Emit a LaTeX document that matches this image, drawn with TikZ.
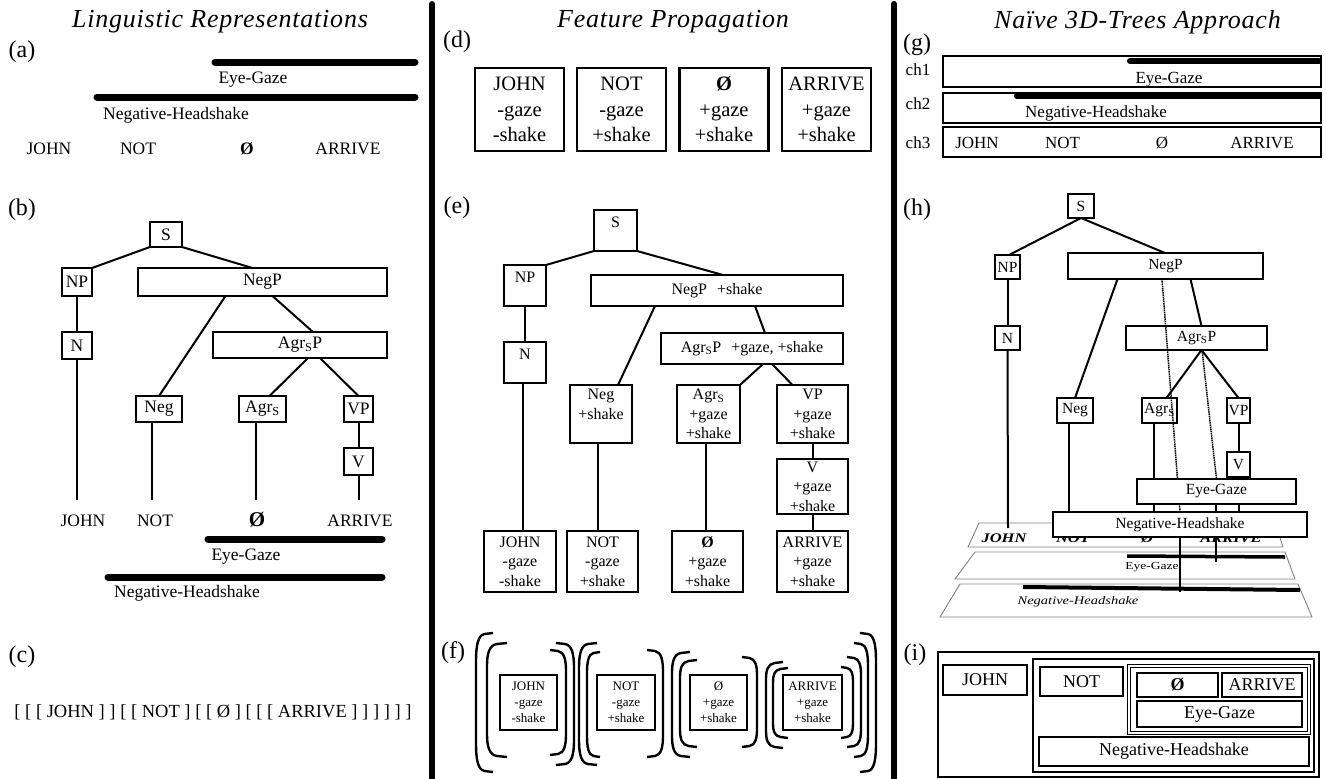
\documentclass[tikz,border=0pt]{standalone}
\usepackage{fontspec}
\setmainfont{Liberation Serif}
\newfontfamily\ttlfont[LetterSpace=3]{Liberation Serif}
\newcommand{\myfs}[2]{\fontsize{#1}{#2}\selectfont}
\newcommand{\brL}[4]{\draw[brk] (#1+#4,#2) -- (#1+0.5*#4,#2+1) .. controls (#1+0.1*#4,#2+2) and (#1,#2+0.1*#3-0.1*#2) .. (#1,#2+0.2*#3-0.2*#2) -- (#1,#3-0.2*#3+0.2*#2) .. controls (#1,#3-0.1*#3+0.1*#2) and (#1+0.1*#4,#3-2) .. (#1+0.5*#4,#3-1) -- (#1+#4,#3);}
\newcommand{\brR}[4]{\draw[brk] (#1-#4,#2) -- (#1-0.5*#4,#2+1) .. controls (#1-0.1*#4,#2+2) and (#1,#2+0.1*#3-0.1*#2) .. (#1,#2+0.2*#3-0.2*#2) -- (#1,#3-0.2*#3+0.2*#2) .. controls (#1,#3-0.1*#3+0.1*#2) and (#1-0.1*#4,#3-2) .. (#1-0.5*#4,#3-1) -- (#1-#4,#3);}
\begin{document}
\begin{tikzpicture}[x=1pt,y=-1pt,
  every node/.style={inner sep=0pt,outer sep=0pt},
  bx/.style={draw,line width=2.2pt,fill=white,align=center},
  sz/.style 2 args={minimum width=#1pt,minimum height=#2pt},
  tl/.style={line width=2pt},
  bar/.style={line width=7pt,line cap=round},
  divider/.style={line width=6pt,line cap=round},
  ttl/.style={font=\ttlfont\itshape\myfs{26}{30}},
  lab/.style={font=\myfs{24}{26}},
  fa/.style={font=\myfs{17.5}{20}},
  fc/.style={font=\myfs{18.5}{20}},
  fd/.style={font=\myfs{20.5}{25.5}},
  fe/.style={font=\myfs{16}{19.5}},
  ff/.style={font=\myfs{13}{16}},
  fg/.style={font=\myfs{17}{20}},
  fh/.style={font=\myfs{15.5}{18}},
  fi/.style={font=\myfs{18}{20}},
  pw/.style={font=\bfseries\itshape\myfs{16.5}{18}},
  brk/.style={line width=2.4pt},
  plane/.style={draw=gray,line width=0.9pt},
  dots/.style={line width=1.5pt,dash pattern=on 1.5pt off 0.7pt},
]
\useasboundingbox (0,0) rectangle (1326,779);

% dividers
\draw[divider] (432,4) -- (432,779);
\draw[divider] (894,4) -- (894,779);

%% ---------------- (a)
\node[ttl] (ta) at (220,22) {Linguistic Representations};
\node[lab] (la) at (22,52) {(a)};
\coordinate (aE1) at (215,62); \coordinate (aE2) at (415,62);
\draw[bar] (aE1) -- (aE2);
\node[fa] (aEt) at (253,80) {Eye-Gaze};
\coordinate (aN1) at (97,97); \coordinate (aN2) at (415,97);
\draw[bar] (aN1) -- (aN2);
\node[fa] (aNt) at (176,115) {Negative-Headshake};
\node[fa] (aw1) at (49,149) {JOHN};
\node[fa] (aw2) at (138,149) {NOT};
\node[fa] (aw3) at (247,149) {\bfseries Ø};
\node[fa] (aw4) at (348,149) {ARRIVE};

%% ---------------- (b)
\node[lab] (lb) at (22,210) {(b)};
\node[bx,fa,sz={32}{25}] (bS) at (166,234.5) {S};
\node[bx,fa,sz={30}{28}] (bNP) at (77,282) {NP};
\node[bx,fa,sz={249}{28}] (bNegP) at (262.5,282) {NegP};
\node[bx,fa,sz={30}{27}] (bN) at (77,345.5) {N};
\node[bx,fa,sz={174}{26}] (bAgrSP) at (300,345) {Agr\textsubscript{S}P};
\node[bx,fa,sz={46}{26}] (bNeg) at (159,409) {Neg};
\node[bx,fa,sz={47}{26}] (bAgrS) at (262.5,409) {Agr\textsubscript{S}};
\node[bx,fa,sz={29}{26}] (bVP) at (358.5,409) {VP};
\node[bx,fa,sz={29}{27}] (bV) at (358.5,461.5) {V};
\coordinate (bJ) at (77,500);
\coordinate (bNo) at (152,500);
\coordinate (bZ) at (256,500);
\coordinate (bA) at (358.5,500);
\draw[tl] (bS.south west) -- (bNP.north east);
\draw[tl] (bS.south east) -- ([xshift=-10pt]bNegP.north);
\draw[tl] ([xshift=-37pt]bNegP.south) -- (bNeg.north);
\draw[tl] ([xshift=10pt]bNegP.south) -- ([xshift=13pt]bAgrSP.north);
\draw[tl] ([xshift=8pt]bAgrSP.south) -- ([xshift=7pt]bAgrS.north);
\draw[tl] ([xshift=20pt]bAgrSP.south) -- (bVP.north);
\draw[tl] (bNP) -- (bN);
\draw[tl] (bN.south) -- (bJ);
\draw[tl] ([xshift=-7pt]bNeg.south) -- (bNo);
\draw[tl] ([xshift=-6.5pt]bAgrS.south) -- (bZ);
\draw[tl] (bVP) -- (bV);
\draw[tl] (bV.south) -- (bA);
\node[fa] (bw1) at (83,521) {JOHN};
\node[fa] (bw2) at (155,521) {NOT};
\node[font=\bfseries\myfs{21}{22}] (bw3) at (257,520) {Ø};
\node[fa] (bw4) at (360,521) {ARRIVE};
\coordinate (bE1) at (208,539); \coordinate (bE2) at (382,539);
\draw[bar] (bE1) -- (bE2);
\node[fa] (bEt) at (246,557) {Eye-Gaze};
\coordinate (bH1) at (108,577); \coordinate (bH2) at (382,577);
\draw[bar] (bH1) -- (bH2);
\node[fa] (bHt) at (187,593) {Negative-Headshake};

%% ---------------- (c)
\node[lab] (lc) at (22,657) {(c)};
\node[fc] (cb) at (213,712) {[ [ [ JOHN ] ] [ [ NOT ] [ [ Ø ] [ [ [ ARRIVE ] ] ] ] ] ]};

%% ---------------- (d)
\node[ttl] (td) at (673,22) {Feature Propagation};
\node[lab] (ld) at (457,42) {(d)};
\node[bx,fd,sz={89}{83},line width=2.5pt] (d1) at (519.5,109.5) {JOHN\\-gaze\\-shake};
\node[bx,fd,sz={89}{83},line width=2.5pt] (d2) at (621.5,109.5) {NOT\\-gaze\\+shake};
\node[bx,fd,sz={89}{83},line width=2.5pt] (d3) at (724,109.5) {{\bfseries Ø}\\+gaze\\+shake};
\node[bx,fd,sz={89}{83},line width=2.5pt] (d4) at (826.5,109.5) {ARRIVE\\+gaze\\+shake};

%% ---------------- (e)
\node[lab] (le) at (457,208) {(e)};
\node[bx,fe,sz={43}{41},text depth=17pt] (eS) at (615.5,230.5) {S};
\node[bx,fe,sz={42}{41},text depth=17pt] (eNP) at (525,285.5) {NP};
\node[bx,fe,sz={252}{31}] (eNegP) at (717,290.5) {NegP\hspace{10pt}+shake};
\node[bx,fe,sz={42}{41},text depth=17pt] (eN) at (525,362.5) {N};
\node[bx,fe,sz={182}{31}] (eAgrSP) at (752,348.5) {Agr\textsubscript{S}P\hspace{10pt}+gaze, +shake};
\node[bx,fe,sz={62}{58}] (eNeg) at (601,414) {Neg\\+shake\\\mbox{}};
\node[bx,fe,sz={63}{58}] (eAgrS) at (708.5,414) {Agr\textsubscript{S}\\+gaze\\+shake};
\node[bx,fe,sz={71}{58}] (eVP) at (812.5,414) {VP\\+gaze\\+shake};
\node[bx,fe,sz={71}{55}] (eV) at (812.5,486.5) {V\\+gaze\\+shake};
\node[bx,fe,sz={72}{61}] (e1) at (520,561.5) {JOHN\\-gaze\\-shake};
\node[bx,fe,sz={71}{61}] (e2) at (602.5,561.5) {NOT\\-gaze\\+shake};
\node[bx,fe,sz={71}{61}] (e3) at (707.5,561.5) {{\bfseries Ø}\\+gaze\\+shake};
\node[bx,fe,sz={71}{61}] (e4) at (812.5,561.5) {ARRIVE\\+gaze\\+shake};
\draw[tl] (eS.south west) -- (eNP.north east);
\draw[tl] (eS.south east) -- ([xshift=6pt]eNegP.north);
\draw[tl] ([xshift=-62pt]eNegP.south) -- ([xshift=17pt]eNeg.north);
\draw[tl] ([xshift=38pt]eNegP.south) -- ([xshift=13pt]eAgrSP.north);
\draw[tl] ([xshift=11pt]eAgrSP.south) -- (eAgrS.north east);
\draw[tl] ([xshift=20pt]eAgrSP.south) -- ([xshift=-20pt]eVP.north);
\draw[tl] (eNP) -- (eN);
\draw[tl] ([xshift=-2pt]eN.south) -- ([xshift=3pt]e1.north);
\draw[tl] ([xshift=-3pt]eNeg.south) -- ([xshift=-4.5pt]e2.north);
\draw[tl] ([xshift=-2.5pt]eAgrS.south) -- ([xshift=-1.5pt]e3.north);
\draw[tl] (eVP) -- (eV);
\draw[tl] (eV) -- (e4);

%% ---------------- (f)
\node[lab] (lf) at (453,653) {(f)};
\node[bx,ff,sz={57}{55}] (f1) at (528.5,702.5) {JOHN\\-gaze\\-shake};
\node[bx,ff,sz={58}{55}] (f2) at (626,702.5) {NOT\\-gaze\\+shake};
\node[bx,ff,sz={57}{55}] (f3) at (718.5,702.5) {Ø\\+gaze\\+shake};
\node[bx,ff,sz={59}{55}] (f4) at (812.5,702.5) {ARRIVE\\+gaze\\+shake};
\brL{476}{633}{772}{17}
\brL{487}{643}{757}{20}
\brR{566}{650}{755}{16}
\brR{574}{643}{765}{18}
\brL{579}{643}{765}{18}
\brL{587}{652}{757}{13}
\brR{663}{650}{757}{16}
\brL{672}{652}{757}{18}
\brL{680}{660}{747}{17}
\brR{757}{657}{747}{15}
\brL{766}{662}{748}{17}
\brL{773}{668}{738}{15}
\brR{853}{667}{738}{12}
\brR{861}{657}{747}{14}
\brR{868}{643}{757}{14}
\brR{876}{633}{772}{16}

%% ---------------- (g)
\node[ttl] (tg) at (1137.5,22) {Naïve 3D-Trees Approach};
\node[lab] (lg) at (917,45) {(g)};
\node[bx,sz={378}{31},line width=2.5pt] (g1) at (1132,71.5) {};
\node[bx,sz={378}{30},line width=2.5pt] (g2) at (1132,108) {};
\node[bx,sz={378}{30},line width=2.5pt] (g3) at (1132,142) {};
\node[fg] (gc1) at (918,70) {ch1};
\node[fg] (gc2) at (918,104) {ch2};
\node[fg] (gc3) at (918,143) {ch3};
\coordinate (gE1) at (1130,61); \coordinate (gE2) at (1319,61);
\draw[bar,line width=6pt] (gE1) -- (gE2);
\node[fg] (gEt) at (1169,80) {Eye-Gaze};
\coordinate (gH1) at (1017,96); \coordinate (gH2) at (1319,96);
\draw[bar,line width=6pt] (gH1) -- (gH2);
\node[fg] (gHt) at (1096,113) {Negative-Headshake};
\node[fg] (gw1) at (977,143) {JOHN};
\node[fg] (gw2) at (1062.5,143) {NOT};
\node[fg] (gw3) at (1162,143) {Ø};
\node[fg] (gw4) at (1262,143) {ARRIVE};

%% ---------------- (h)
\node[lab] (lh) at (917,210) {(h)};
% planes
\draw[plane] (979,523) -- (1275,523) -- (1283,547) -- (968,547) -- cycle;
\draw[plane] (975,552) -- (1285,552) -- (1295,579) -- (955,579) -- cycle;
\draw[plane] (960,584) -- (1298,584) -- (1312,617) -- (940,617) -- cycle;
\node[pw] (pJ) at (1004,538) {\scalebox{1}[0.8]{JOHN}};
\node[pw] (pN) at (1073,538) {\scalebox{1}[0.8]{NOT}};
\node[pw] (pZ) at (1147,538) {\scalebox{1}[0.8]{Ø}};
\node[pw] (pA) at (1231,538) {\scalebox{1}[0.8]{ARRIVE}};
\node[font=\myfs{13.5}{15}] (pE) at (1152,567) {\scalebox{1}[0.8]{Eye-Gaze}};
\node[font=\itshape\myfs{14.5}{16}] (pH) at (1078,602) {\scalebox{1}[0.8]{Negative-Headshake}};
\draw[line width=3.5pt] (1127,556) -- (1285,557);
\draw[line width=4pt] (1023,587) -- (1300,590);
% tree boxes
\node[bx,fh,sz={26}{24}] (hS) at (1081,206) {S};
\node[bx,fh,sz={25}{24}] (hNP) at (1007.5,267) {NP};
\node[bx,fh,sz={195}{26}] (hNegP) at (1165.5,266) {NegP};
\node[bx,fh,sz={25}{24}] (hN) at (1007.5,338) {N};
\node[bx,fh,sz={141}{24}] (hAgrSP) at (1196.5,338) {Agr\textsubscript{S}P};
\node[bx,fh,sz={36}{25}] (hNeg) at (1075,410.5) {Neg};
\node[bx,fh,sz={35}{25}] (hAgrS) at (1159.5,410.5) {Agr\textsubscript{S}};
\node[bx,fh,sz={23}{25}] (hVP) at (1238.5,410.5) {VP};
\node[bx,fh,sz={23}{25}] (hV) at (1238.5,464.5) {V};
\node[bx,fh,sz={159}{25}] (hEG) at (1216.5,491.5) {Eye-Gaze};
\node[bx,fh,sz={254}{25}] (hNH) at (1180,524.5) {Negative-Headshake};
\coordinate (hJ) at (1008,528);
\coordinate (hHe) at (1180,592);
\coordinate (hEe) at (1216,562);
\draw[tl] (hS.south) -- ([xshift=1.5pt]hNP.north);
\draw[tl] (hS.south) -- ([xshift=-0.5pt]hNegP.north);
\draw[tl] ([xshift=-48pt]hNegP.south) -- (hNeg.north);
\draw[tl] ([xshift=25pt]hNegP.south) -- ([xshift=5pt]hAgrSP.north);
\draw[tl] ([xshift=5pt]hAgrSP.south) -- ([xshift=7pt]hAgrS.north);
\draw[tl] ([xshift=5pt]hAgrSP.south) -- (hVP.north);
\draw[tl] (hNP) -- (hN);
\draw[tl] (hN.south) -- (hJ);
\draw[tl] ([xshift=-6pt]hNeg.south) -- ([xshift=-111pt]hNH.north);
\draw[tl] ([xshift=-5.5pt]hAgrS.south) -- ([xshift=-62.5pt]hEG.north);
\draw[tl] ([xshift=-62.5pt]hEG.south) -- ([xshift=-26pt]hNH.north);
\draw[tl] (hVP) -- (hV);
\draw[tl] (hV.south) -- ([xshift=22pt]hEG.north);
\draw[tl] ([xshift=22pt]hEG.south) -- ([xshift=58.5pt]hNH.north);
\draw[dots] ([xshift=-3.5pt]hNegP.south) -- ([xshift=-39pt]hEG.north);
\draw[dots] ([xshift=-37pt]hEG.south) -- (hNH.north);
\draw[tl] (hNH.south) -- (hHe);
\draw[dots] ([xshift=5.5pt]hAgrSP.south) -- (hEG.north);
\draw[tl] ([xshift=-0.5pt]hEG.south) -- ([xshift=36pt]hNH.north);
\draw[tl] ([xshift=36pt]hNH.south) -- (hEe);

%% ---------------- (i)
\node[lab] (li) at (915,655) {(i)};
\node[bx,sz={381}{125},line width=2.5pt] (iO) at (1128.5,714.5) {};
\node[bx,fi,sz={84}{30}] (iJ) at (985,680) {JOHN};
\node[bx,sz={281}{113}] (iB) at (1173.5,715.5) {};
\node[bx,fi,sz={83}{29}] (iN) at (1081.5,681.5) {NOT};
\node[bx,sz={180}{67},double,double distance=1.5pt,line width=1.5pt] (iA) at (1219,699.5) {};
\node[bx,fi,sz={81}{24}] (iZ) at (1177.5,685) {\bfseries Ø};
\node[bx,fi,sz={80}{24}] (iAr) at (1262,685) {ARRIVE};
\node[bx,fi,sz={165}{26}] (iE) at (1219.5,714) {Eye-Gaze};
\node[bx,fi,sz={270}{29}] (iH) at (1174,751.5) {Negative-Headshake};
\end{tikzpicture}
\end{document}
